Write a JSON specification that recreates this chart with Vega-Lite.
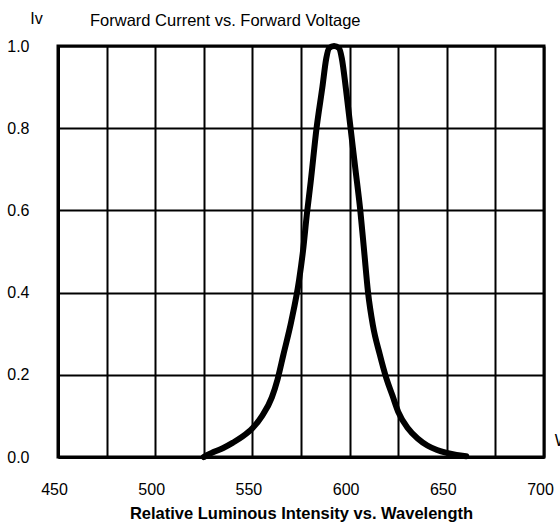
{
  "$schema": "https://vega.github.io/schema/vega-lite/v6.json",
  "autosize": {"type": "none"},
  "padding": {"left": 58, "top": 46, "right": 16, "bottom": 69},
  "width": 486,
  "height": 411,
  "config": {
    "font": "Liberation Sans",
    "view": {"stroke": "black", "strokeWidth": 3},
    "background": "white"
  },
  "title": {
    "text": "Forward Current vs. Forward Voltage",
    "anchor": "start",
    "frame": "group",
    "dx": 32,
    "offset": -32,
    "baseline": "alphabetic",
    "fontSize": 16.5,
    "fontWeight": "normal",
    "color": "black",
    "font": "Liberation Sans"
  },
  "layer": [
    {
      "data": {
        "values": [
          {"wl": 525, "iv": 0.0},
          {"wl": 530, "iv": 0.012},
          {"wl": 535, "iv": 0.022},
          {"wl": 540, "iv": 0.035},
          {"wl": 545, "iv": 0.05},
          {"wl": 550, "iv": 0.07},
          {"wl": 555, "iv": 0.1},
          {"wl": 560, "iv": 0.145},
          {"wl": 563, "iv": 0.19},
          {"wl": 566, "iv": 0.25},
          {"wl": 570, "iv": 0.33},
          {"wl": 574, "iv": 0.43},
          {"wl": 576, "iv": 0.5},
          {"wl": 578, "iv": 0.59},
          {"wl": 580, "iv": 0.67},
          {"wl": 583, "iv": 0.8},
          {"wl": 586, "iv": 0.9},
          {"wl": 588, "iv": 0.97},
          {"wl": 589.5, "iv": 0.995},
          {"wl": 592, "iv": 1.0},
          {"wl": 594.5, "iv": 0.995},
          {"wl": 596, "iv": 0.97},
          {"wl": 598, "iv": 0.9},
          {"wl": 600.5, "iv": 0.8},
          {"wl": 603, "iv": 0.7},
          {"wl": 605.5, "iv": 0.6},
          {"wl": 607.5, "iv": 0.5},
          {"wl": 609.5, "iv": 0.4},
          {"wl": 612, "iv": 0.32},
          {"wl": 615.5, "iv": 0.25},
          {"wl": 619, "iv": 0.19},
          {"wl": 622, "iv": 0.15},
          {"wl": 625, "iv": 0.11},
          {"wl": 630, "iv": 0.07},
          {"wl": 635, "iv": 0.045},
          {"wl": 640, "iv": 0.028},
          {"wl": 645, "iv": 0.017},
          {"wl": 650, "iv": 0.01},
          {"wl": 655, "iv": 0.005},
          {"wl": 660, "iv": 0.002}
        ]
      },
      "mark": {"type": "line", "color": "black", "strokeWidth": 6, "interpolate": "monotone", "strokeCap": "round", "clip": false},
      "encoding": {
        "x": {
          "field": "wl", "type": "quantitative",
          "scale": {"domain": [450, 700], "nice": false, "zero": false},
          "axis": {
            "values": [450, 475, 500, 525, 550, 575, 600, 625, 650, 675, 700],
            "labelExpr": "datum.value % 50 === 0 ? datum.label : ''",
            "grid": true, "gridColor": "black", "gridWidth": 2, "gridOpacity": 1,
            "domain": true, "domainColor": "black", "domainWidth": 3,
            "ticks": false,
            "labelPadding": 24, "labelOffset": -4, "labelFontSize": 16, "labelColor": "black", "labelFont": "Liberation Sans",
            "labelFlush": false, "labelOverlap": false,
            "title": "Relative Luminous Intensity vs. Wavelength",
            "titleFontSize": 16.5, "titleFontWeight": "bold", "titleColor": "black", "titlePadding": 8, "titleFont": "Liberation Sans"
          }
        },
        "y": {
          "field": "iv", "type": "quantitative",
          "scale": {"domain": [0, 1], "nice": false},
          "axis": {
            "values": [0, 0.2, 0.4, 0.6, 0.8, 1.0],
            "format": ".1f",
            "grid": true, "gridColor": "black", "gridWidth": 2, "gridOpacity": 1,
            "domain": true, "domainColor": "black", "domainWidth": 3,
            "ticks": false,
            "labelPadding": 29, "labelFontSize": 16, "labelColor": "black", "labelFont": "Liberation Sans",
            "labelFlush": false, "labelOverlap": false,
            "title": "Iv", "titleAngle": 0, "titleX": -22, "titleY": -28,
            "titleAlign": "center", "titleBaseline": "middle",
            "titleFontSize": 16, "titleFontWeight": "normal", "titleColor": "black", "titleFont": "Liberation Sans"
          }
        }
      }
    },
    {
      "data": {"values": [{"wl": 705.5, "iv": 0.04, "t": "Wavelength"}]},
      "mark": {"type": "text", "align": "left", "baseline": "middle", "fontSize": 16, "color": "black", "clip": false, "font": "Liberation Sans"},
      "encoding": {
        "x": {"field": "wl", "type": "quantitative"},
        "y": {"field": "iv", "type": "quantitative"},
        "text": {"field": "t"}
      }
    }
  ]
}
